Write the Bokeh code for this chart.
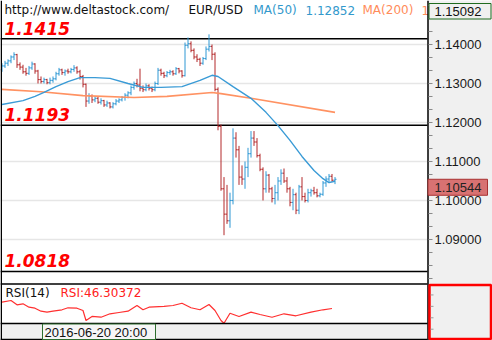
from bokeh.plotting import figure
from bokeh.models import Range1d, ColumnDataSource
from bokeh.embed import file_html
from bokeh.resources import INLINE
from bokeh.core.properties import value

# ---------------- data ----------------
opens = [1.1335, 1.1345, 1.1352, 1.1358, 1.1368, 1.1374, 1.1348, 1.1342, 1.1330, 1.1326,
         1.1340, 1.1350, 1.1332, 1.1310, 1.1305, 1.1310, 1.1302, 1.1308, 1.1312, 1.1325,
         1.1335, 1.1328, 1.1332, 1.1330, 1.1336, 1.1340, 1.1330, 1.1318, 1.1298, 1.1255,
         1.1268, 1.1258, 1.1262, 1.1252, 1.1256, 1.1245, 1.1250, 1.1240, 1.1248, 1.1255,
         1.1258, 1.1264, 1.1270, 1.1276, 1.1290, 1.1300, 1.1296, 1.1288, 1.1284, 1.1294,
         1.1288, 1.1284, 1.1300, 1.1334, 1.1326, 1.1320, 1.1328, 1.1330, 1.1325, 1.1338,
         1.1332, 1.1320, 1.1398, 1.1402, 1.1385, 1.1368, 1.1362, 1.1352, 1.1364, 1.1388,
         1.1395, 1.1375, 1.1285, 1.1190, 1.1030, 1.0965, 1.0948, 1.1000, 1.1160, 1.1130,
         1.1060, 1.1055, 1.1085, 1.1120, 1.1160, 1.1150, 1.1115, 1.1080, 1.1030, 1.1065,
         1.1030, 1.1005, 1.1020, 1.1050, 1.1070, 1.1050, 1.1030, 1.0995, 1.1015, 1.0975,
         1.1035, 1.1010, 1.1000, 1.1020, 1.1025, 1.1020, 1.1012, 1.1016, 1.1045, 1.1055,
         1.1062, 1.1052]
highs = [1.1352, 1.1358, 1.1362, 1.1372, 1.1380, 1.1376, 1.1354, 1.1348, 1.1340, 1.1345,
         1.1356, 1.1352, 1.1335, 1.1318, 1.1315, 1.1312, 1.1315, 1.1318, 1.1330, 1.1340,
         1.1338, 1.1336, 1.1338, 1.1340, 1.1347, 1.1344, 1.1335, 1.1322, 1.1300, 1.1275,
         1.1272, 1.1268, 1.1266, 1.1262, 1.1258, 1.1256, 1.1252, 1.1252, 1.1260, 1.1262,
         1.1268, 1.1275, 1.1280, 1.1295, 1.1305, 1.1312, 1.1338, 1.1295, 1.1300, 1.1298,
         1.1292, 1.1305, 1.1340, 1.1338, 1.1330, 1.1332, 1.1335, 1.1334, 1.1342, 1.1340,
         1.1334, 1.1405, 1.1418, 1.1408, 1.1390, 1.1375, 1.1366, 1.1368, 1.1395, 1.1426,
         1.1400, 1.1380, 1.1290, 1.1195, 1.1060, 1.1040, 1.1020, 1.1185, 1.1175, 1.1140,
         1.1090, 1.1100, 1.1135, 1.1178, 1.1178, 1.1160, 1.1120, 1.1085, 1.1075, 1.1068,
         1.1035, 1.1040, 1.1060, 1.1080, 1.1082, 1.1060, 1.1035, 1.1030, 1.1020, 1.1040,
         1.1060, 1.1020, 1.1030, 1.1030, 1.1035, 1.1030, 1.1020, 1.1050, 1.1062, 1.1068,
         1.1068, 1.1060]
lows = [1.1330, 1.1340, 1.1345, 1.1352, 1.1360, 1.1340, 1.1335, 1.1325, 1.1320, 1.1322,
        1.1335, 1.1325, 1.1300, 1.1300, 1.1300, 1.1298, 1.1298, 1.1302, 1.1308, 1.1320,
        1.1322, 1.1320, 1.1325, 1.1326, 1.1330, 1.1325, 1.1310, 1.1290, 1.1240, 1.1248,
        1.1250, 1.1252, 1.1248, 1.1246, 1.1240, 1.1240, 1.1236, 1.1236, 1.1244, 1.1250,
        1.1254, 1.1256, 1.1262, 1.1270, 1.1284, 1.1290, 1.1280, 1.1278, 1.1280, 1.1282,
        1.1278, 1.1280, 1.1296, 1.1320, 1.1314, 1.1316, 1.1322, 1.1320, 1.1322, 1.1326,
        1.1315, 1.1318, 1.1390, 1.1380, 1.1362, 1.1355, 1.1345, 1.1348, 1.1360, 1.1382,
        1.1360, 1.1280, 1.1180, 1.1025, 1.0911, 1.0940, 1.0930, 1.0990, 1.1110, 1.1040,
        1.1040, 1.1030, 1.1060, 1.1110, 1.1140, 1.1110, 1.1075, 1.1000, 1.1020, 1.1020,
        1.0995, 1.0990, 1.1000, 1.1040, 1.1045, 1.1020, 1.0985, 1.0975, 1.0965, 1.0965,
        1.1000, 1.0995, 1.0995, 1.1010, 1.1015, 1.1008, 1.1008, 1.1012, 1.1035, 1.1048,
        1.1048, 1.1042]
closes = [1.1345, 1.1352, 1.1358, 1.1368, 1.1374, 1.1348, 1.1342, 1.1330, 1.1326, 1.1340,
          1.1350, 1.1332, 1.1310, 1.1305, 1.1310, 1.1302, 1.1308, 1.1312, 1.1325, 1.1335,
          1.1328, 1.1332, 1.1330, 1.1336, 1.1340, 1.1330, 1.1318, 1.1298, 1.1255, 1.1268,
          1.1258, 1.1262, 1.1252, 1.1256, 1.1245, 1.1250, 1.1240, 1.1248, 1.1255, 1.1258,
          1.1264, 1.1270, 1.1276, 1.1290, 1.1300, 1.1296, 1.1288, 1.1284, 1.1294, 1.1288,
          1.1284, 1.1300, 1.1334, 1.1326, 1.1320, 1.1328, 1.1330, 1.1325, 1.1338, 1.1332,
          1.1320, 1.1398, 1.1402, 1.1385, 1.1368, 1.1362, 1.1352, 1.1364, 1.1388, 1.1395,
          1.1375, 1.1285, 1.1190, 1.1030, 1.0965, 1.0948, 1.1000, 1.1160, 1.1130, 1.1060,
          1.1055, 1.1085, 1.1120, 1.1160, 1.1150, 1.1115, 1.1080, 1.1030, 1.1065, 1.1030,
          1.1005, 1.1020, 1.1050, 1.1070, 1.1050, 1.1030, 1.0995, 1.1015, 1.0975, 1.1035,
          1.1010, 1.1000, 1.1020, 1.1025, 1.1020, 1.1012, 1.1016, 1.1045, 1.1055, 1.1062,
          1.1052, 1.10544]

ma50_idx = [0, 7, 11, 14, 18, 22, 26, 31, 36, 42, 47, 53, 60, 66, 70, 72, 77, 83, 88, 92,
            96, 100, 104, 107, 109, 111]
ma50_val = [1.1246, 1.1256, 1.1267, 1.1277, 1.1292, 1.1305, 1.1315, 1.1315, 1.1313, 1.1300,
            1.1290, 1.1290, 1.1292, 1.1308, 1.1321, 1.1318, 1.1292, 1.1262, 1.1226, 1.1192,
            1.1154, 1.1113, 1.1077, 1.1056, 1.1046, 1.1049]
ma200_idx = [0, 13, 27, 44, 55, 70, 73, 83, 111]
ma200_val = [1.1285, 1.1279, 1.1269, 1.1264, 1.1267, 1.1277, 1.1274, 1.1262, 1.1226]

rsi_idx = [0, 3, 5, 7, 9, 11, 13, 15, 17, 20, 22, 25, 27, 28, 30, 33, 36, 39, 42, 45,
           47, 49, 54, 57, 60, 63, 66, 69, 71, 73, 74, 76, 79, 83, 86, 90, 94, 98, 103, 107,
           110]
rsi_val = [57.3, 60.3, 52.7, 54.5, 48.5, 46.8, 41.5, 39.8, 41.5, 44.0, 47.5, 46.8, 42.8, 25.3,
           32.3, 31.0, 37.0, 39.3, 41.5, 51.5, 44.0, 48.5, 49.8, 51.5, 55.5, 47.5, 44.0, 53.3,
           42.8, 25.3, 20.5, 38.0, 32.3, 39.8, 35.8, 31.0, 37.0, 33.5, 39.8, 44.0, 46.3]

levels = [1.1415, 1.1193, 1.0818]
level_labels = ["1.1415", "1.1193", "1.0818"]
labelled_ticks = [1.09, 1.10, 1.11, 1.12, 1.13, 1.14]
tick_labels = ["1.09000", "1.10000", "1.11000", "1.12000", "1.13000", "1.14000"]
rsi_ticks = [10, 30, 50, 70]

header_texts = ["http://www.deltastock.com/", "EUR/USD", "MA(50)", "1.12852", "MA(200)", "1.12770"]
top_price = "1.15092"
last_price = 1.10544
last_price_text = "1.10544"
rsi_title = "RSI(14)"
rsi_value_text = "RSI:46.30372"
time_label = "2016-06-20 20:00"

# ---------------- layout / style constants ----------------
W, H = 492, 340
FRAME_W = 427          # right edge of the chart area
MAIN_BOTTOM = 283      # bottom of price panel
RSI_BOTTOM = 323       # bottom of RSI panel
BAR_PX = 3.0
X0 = -0.5
PX_PER_PRICE = 3900.0
P_TOP = 1.15128
P_BOT = P_TOP - H / PX_PER_PRICE
RSI_LO, RSI_HI = 20.0, 90.0
RSI_PER_PX = (RSI_HI - RSI_LO) / (RSI_BOTTOM - MAIN_BOTTOM)
BLUE = "#2f98d4"
RED = "#b3292b"
MA50_C = "#3a9bd6"
MA200_C = "#ff9262"
GRAY_BG = "#f0f0f0"

p = figure(width=W, height=H, output_backend="svg", toolbar_location=None,
           x_range=Range1d(X0, X0 + W / BAR_PX), y_range=Range1d(P_BOT, P_TOP),
           x_axis_location=None, y_axis_location=None,
           min_border_left=0, min_border_right=0, min_border_top=0, min_border_bottom=0,
           background_fill_color="white", border_fill_color="white", outline_line_color=None)
p.grid.visible = False
p.extra_x_ranges = {"px": Range1d(0, W)}
p.extra_y_ranges = {"px": Range1d(H, 0),
                    "rsi": Range1d(RSI_LO - (H - RSI_BOTTOM) * RSI_PER_PX,
                                   RSI_HI + MAIN_BOTTOM * RSI_PER_PX)}

# grid lines of price panel
p.segment(x0=[0] * len(labelled_ticks), x1=[FRAME_W] * len(labelled_ticks),
          y0=labelled_ticks, y1=labelled_ticks, x_range_name="px",
          line_color="#e6e6e6", line_width=1.5)

# grey areas: axis column and time row
p.quad(left=[FRAME_W, 0], right=[W, FRAME_W], top=[0, RSI_BOTTOM], bottom=[H, H],
       x_range_name="px", y_range_name="px", fill_color=GRAY_BG, line_color=None)

# horizontal level lines
p.segment(x0=[0] * 3, x1=[FRAME_W] * 3, y0=levels, y1=levels, x_range_name="px",
          line_color="black", line_width=1.5)

# OHLC bars
idx = list(range(len(closes)))
cols = [BLUE if c > o else RED for o, c in zip(opens, closes)]
src = ColumnDataSource(dict(x=idx, xl=[i - 0.5 for i in idx], xr=[i + 0.5 for i in idx],
                            o=opens, h=highs, l=lows, c=closes, col=cols))
p.segment(x0="x", y0="l", x1="x", y1="h", line_color="col", line_width=1, source=src)
p.segment(x0="xl", y0="o", x1="x", y1="o", line_color="col", line_width=1, source=src)
p.segment(x0="x", y0="c", x1="xr", y1="c", line_color="col", line_width=1, source=src)

# moving averages
p.line(ma200_idx, ma200_val, line_color=MA200_C, line_width=1.6)
p.line(ma50_idx, ma50_val, line_color=MA50_C, line_width=1.4)

# RSI
p.line(rsi_idx, rsi_val, y_range_name="rsi", line_color="#ff3030", line_width=1.2)

# level labels (glyph y_offset: negative moves the text up)
p.text(x=[4, 4, 4], y=levels, text=level_labels, x_range_name="px",
       text_font=value("DejaVu Sans"), text_font_style="bold italic", text_font_size="17px",
       text_color="#ff0000", text_baseline="bottom", y_offset=-4)

# header
hsrc = ColumnDataSource(dict(x=[4, 188, 253, 305, 362, 421], y=[9.5] * 6, t=header_texts,
                             c=["#111111", "#111111", "#3399cc", "#3399cc", "#ff8c5a", "#ff8c5a"]))
p.text(x="x", y="y", text="t", text_color="c", source=hsrc, x_range_name="px", y_range_name="px",
       text_font=value("DejaVu Sans"), text_font_size="12px", text_baseline="middle")

# cover header overflow with the axis column
p.quad(left=[FRAME_W + 1], right=[W], top=[0], bottom=[MAIN_BOTTOM], x_range_name="px",
       y_range_name="px", fill_color=GRAY_BG, line_color=None)

# frame lines
p.segment(x0=[0, 0, 0, 0.75, FRAME_W + 0.5], x1=[FRAME_W, FRAME_W, FRAME_W, 0.75, FRAME_W + 0.5],
          y0=[MAIN_BOTTOM + 0.5, RSI_BOTTOM, H - 1, 0, 0], y1=[MAIN_BOTTOM + 0.5, RSI_BOTTOM, H - 1, H, H],
          x_range_name="px", y_range_name="px", line_color="black", line_width=1.5)

# price axis ticks (major + minor) and labels
minor = []
for a in [1.08] + labelled_ticks:
    minor += [a + 0.01 / 3, a + 0.02 / 3]
all_ticks = [1.08] + labelled_ticks + [1.15] + minor
p.segment(x0=[FRAME_W + 1] * len(all_ticks), x1=[FRAME_W + 5] * len(all_ticks),
          y0=all_ticks, y1=all_ticks, x_range_name="px", line_color="#8a8a8a", line_width=1)
p.text(x=[FRAME_W + 7] * len(labelled_ticks), y=labelled_ticks, text=tick_labels,
       x_range_name="px", text_font=value("Liberation Sans"), text_font_size="13px",
       text_color="#1a1a1a", text_baseline="middle")

# top value box
p.quad(left=[FRAME_W + 1.5], right=[W - 1.5], top=[3], bottom=[18.5], x_range_name="px",
       y_range_name="px", fill_color=GRAY_BG, line_color="#1f6b1f", line_width=1)
p.text(x=[FRAME_W + 7], y=[11], text=[top_price], x_range_name="px", y_range_name="px",
       text_font=value("Liberation Sans"), text_font_size="13px", text_color="#111111",
       text_baseline="middle")

# last price box (top edge at the last price)
BOX_H = 16 / PX_PER_PRICE
p.quad(left=[FRAME_W + 0.5], right=[FRAME_W + 60], top=[last_price], bottom=[last_price - BOX_H],
       x_range_name="px", fill_color="#d87272", line_color="#a83232", line_width=1)
p.text(x=[FRAME_W + 7], y=[last_price - BOX_H / 2], text=[last_price_text], x_range_name="px",
       text_font=value("Liberation Sans"), text_font_size="13px", text_color="#222222",
       text_baseline="middle")

# red box on the RSI axis + its ticks
p.quad(left=[FRAME_W + 2], right=[W - 1.5], top=[MAIN_BOTTOM + 1.5], bottom=[H - 1.5],
       x_range_name="px", y_range_name="px", fill_color=None, line_color="#ff0000", line_width=2.5)
p.segment(x0=[FRAME_W + 3] * 4, x1=[FRAME_W + 6] * 4, y0=rsi_ticks, y1=rsi_ticks,
          x_range_name="px", y_range_name="rsi", line_color="#9a9a9a", line_width=1)

# time label
p.quad(left=[42], right=[155], top=[RSI_BOTTOM + 0.5], bottom=[H - 1], x_range_name="px",
       y_range_name="px", fill_color="#f6f6f6", line_color="#2e6e2e", line_width=1)
p.text(x=[44], y=[331.5], text=[time_label], x_range_name="px", y_range_name="px",
       text_font=value("Liberation Sans"), text_font_size="13px", text_color="#111111",
       text_baseline="middle")

# RSI titles
p.text(x=[5, 60], y=[292.5, 292.5], text=[rsi_title, rsi_value_text],
       text_color=["#111111", "#ff2020"], x_range_name="px", y_range_name="px",
       text_font=value("DejaVu Sans"), text_font_size="12px", text_baseline="middle")

open("out.html", "w").write(file_html(p, INLINE))
